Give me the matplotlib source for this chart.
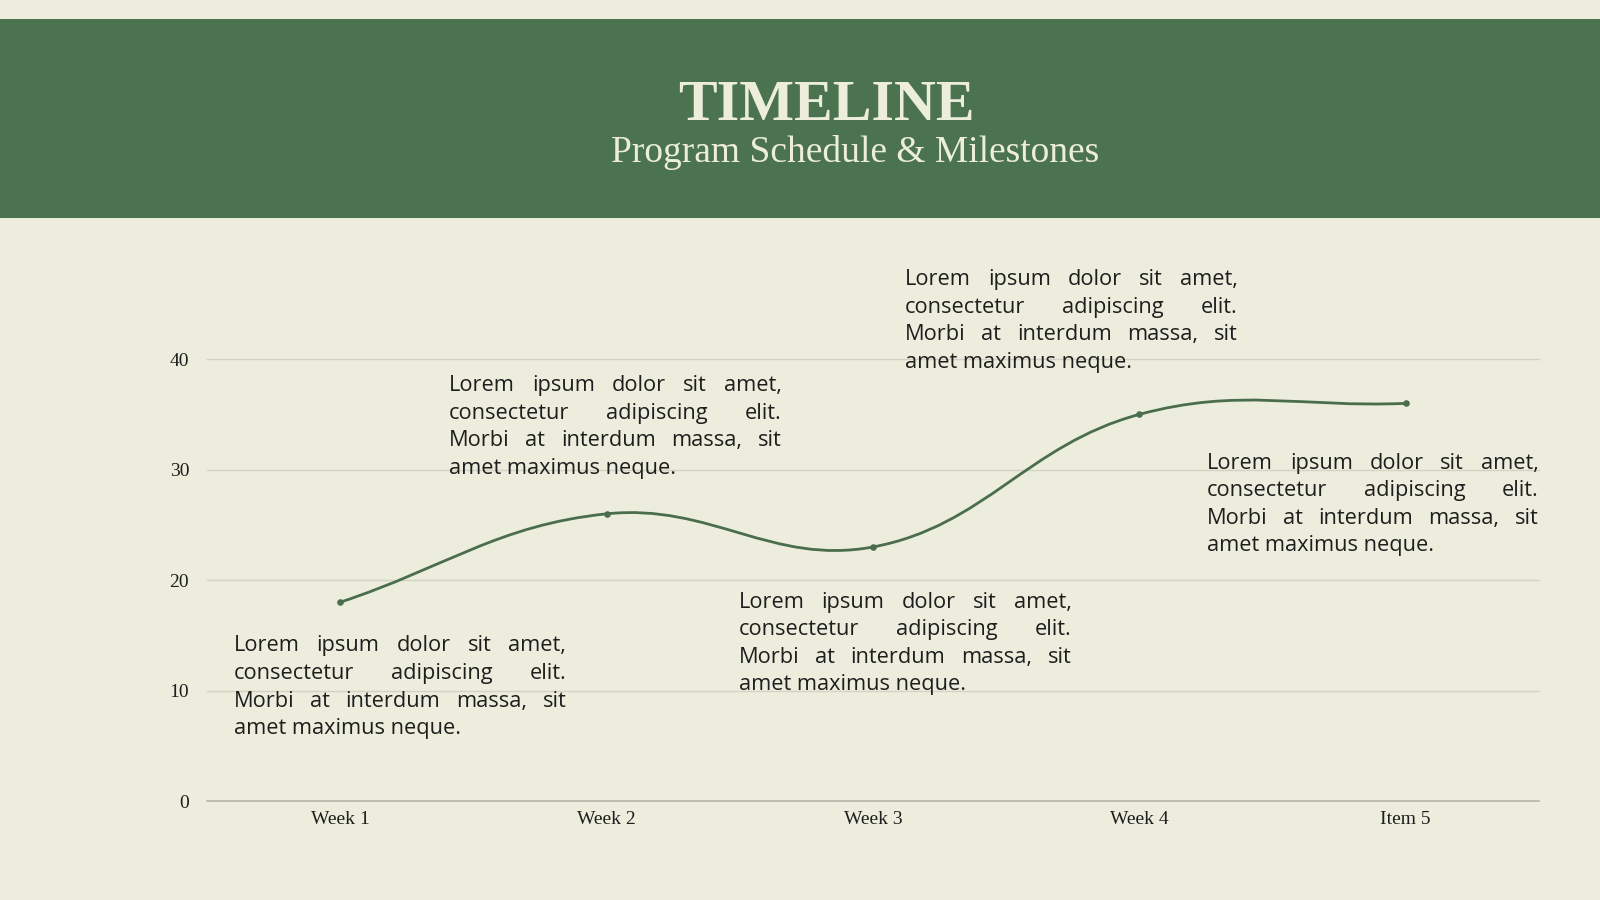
import matplotlib
matplotlib.use("Agg")
import matplotlib.pyplot as plt
import numpy as np
from matplotlib.path import Path
from matplotlib.patches import PathPatch, Rectangle

# data
categories = ["Week 1", "Week 2", "Week 3", "Week 4", "Item 5"]
values = [18, 26, 23, 35, 36]
y_ticks = [0, 10, 20, 30, 40]

title = "TIMELINE"
subtitle = "Program Schedule & Milestones"
note_lines = ["Lorem ipsum dolor sit amet,",
              "consectetur adipiscing elit.",
              "Morbi at interdum massa, sit",
              "amet maximus neque."]
# (left px, right px, first line center px) in a 1568x882 frame
note_boxes = [(229, 555, 633), (440, 766, 378), (724, 1050, 590),
              (887, 1213, 274), (1183, 1508, 454)]

BG = "#EDEDDD"
GREEN = "#4B7350"
LINE = "#4A6E4C"
TEXT = "#1E1E1E"
LIGHT = "#EDEDDC"

W0, H0 = 1568.0, 882.0


def fx(px):
    return px / W0


def fy(py):
    return 1 - py / H0


fig = plt.figure(figsize=(16, 9), dpi=100)
fig.patch.set_facecolor(BG)
renderer = fig.canvas.get_renderer()

# header band
fig.patches.append(Rectangle((0, fy(214)), 1, fy(19) - fy(214), transform=fig.transFigure,
                             facecolor=GREEN, edgecolor="none", zorder=0))


def fit_text(x, y, s, width_px, **kw):
    t = fig.text(x, y, s, fontsize=10, **kw)
    w = t.get_window_extent(renderer).width
    t.set_fontsize(10 * width_px * 1600 / W0 / w)
    return t


fit_text(fx(810), fy(104), title, 290, ha="center", va="center", color=LIGHT,
         family="Liberation Serif", weight="bold")
fit_text(fx(838), fy(149), subtitle, 479, ha="center", va="center", color=LIGHT,
         family="Liberation Serif")

# chart area
ax = fig.add_axes([fx(203), fy(785), fx(1508) - fx(203), fy(352) - fy(785)])
ax.set_facecolor("none")
ax.set_xlim(-0.5, len(categories) - 0.5)
ax.set_ylim(0, 40)
for s in ax.spines.values():
    s.set_visible(False)
ax.set_yticks(y_ticks)
ax.set_xticks(range(len(categories)))
ax.set_xticklabels(categories)
ax.tick_params(length=0, labelsize=14, labelcolor=TEXT)
ax.tick_params(axis="y", pad=13)
ax.tick_params(axis="x", pad=7)
for lab in ax.get_xticklabels() + ax.get_yticklabels():
    lab.set_family("Liberation Serif")
for v in y_ticks:
    ax.axhline(v, color="#B5B5A5" if v == 0 else "#D3D3C3", lw=1.2 if v == 0 else 1,
               zorder=1, clip_on=False)

# smooth line, spline with tension 0.4 in pixel space
xs = np.arange(len(values), dtype=float)
ys = np.array(values, dtype=float)
sx, sy = 261.0, 10.825
tension = 0.4
cps = []
for i in range(len(xs)):
    p = (xs[max(i - 1, 0)], ys[max(i - 1, 0)])
    c = (xs[i], ys[i])
    n = (xs[min(i + 1, len(xs) - 1)], ys[min(i + 1, len(xs) - 1)])
    d01 = np.hypot((c[0] - p[0]) * sx, (c[1] - p[1]) * sy)
    d12 = np.hypot((n[0] - c[0]) * sx, (n[1] - c[1]) * sy)
    tot = d01 + d12
    s01 = d01 / tot if tot else 0
    s12 = d12 / tot if tot else 0
    fa, fb = tension * s01, tension * s12
    prev_cp = (c[0] - fa * (n[0] - p[0]), c[1] - fa * (n[1] - p[1]))
    next_cp = (c[0] + fb * (n[0] - p[0]), c[1] + fb * (n[1] - p[1]))
    cps.append((prev_cp, next_cp))

verts = [(xs[0], ys[0])]
codes = [Path.MOVETO]
for i in range(1, len(xs)):
    verts += [cps[i - 1][1], cps[i][0], (xs[i], ys[i])]
    codes += [Path.CURVE4] * 3
ax.add_patch(PathPatch(Path(verts, codes), facecolor="none", edgecolor=LINE, lw=2, zorder=3))
ax.scatter(xs, ys, s=14, color=LINE, zorder=4)

# justified notes
body_font = "Open Sans"
probe = fig.text(0, 0, note_lines[3], fontsize=10, family=body_font)
body_size = 10 * 223 * 1600 / W0 / probe.get_window_extent(renderer).width
probe.remove()
line_gap = 27

for left, right, top in note_boxes:
    for k, line in enumerate(note_lines):
        yc = fy(top + k * line_gap)
        words = line.split()
        if k == len(note_lines) - 1:
            fig.text(fx(left), yc, line, fontsize=body_size, family=body_font,
                     color=TEXT, ha="left", va="center", zorder=5)
            continue
        objs = [fig.text(0, yc, w, fontsize=body_size, family=body_font, color=TEXT,
                         ha="left", va="center", zorder=5) for w in words]
        widths = [o.get_window_extent(renderer).width / 1600 for o in objs]
        gap = (fx(right) - fx(left) - sum(widths)) / (len(words) - 1)
        x = fx(left)
        for o, w in zip(objs, widths):
            o.set_x(x)
            x += w + gap

fig.savefig("out.png", dpi=100, facecolor=BG)
